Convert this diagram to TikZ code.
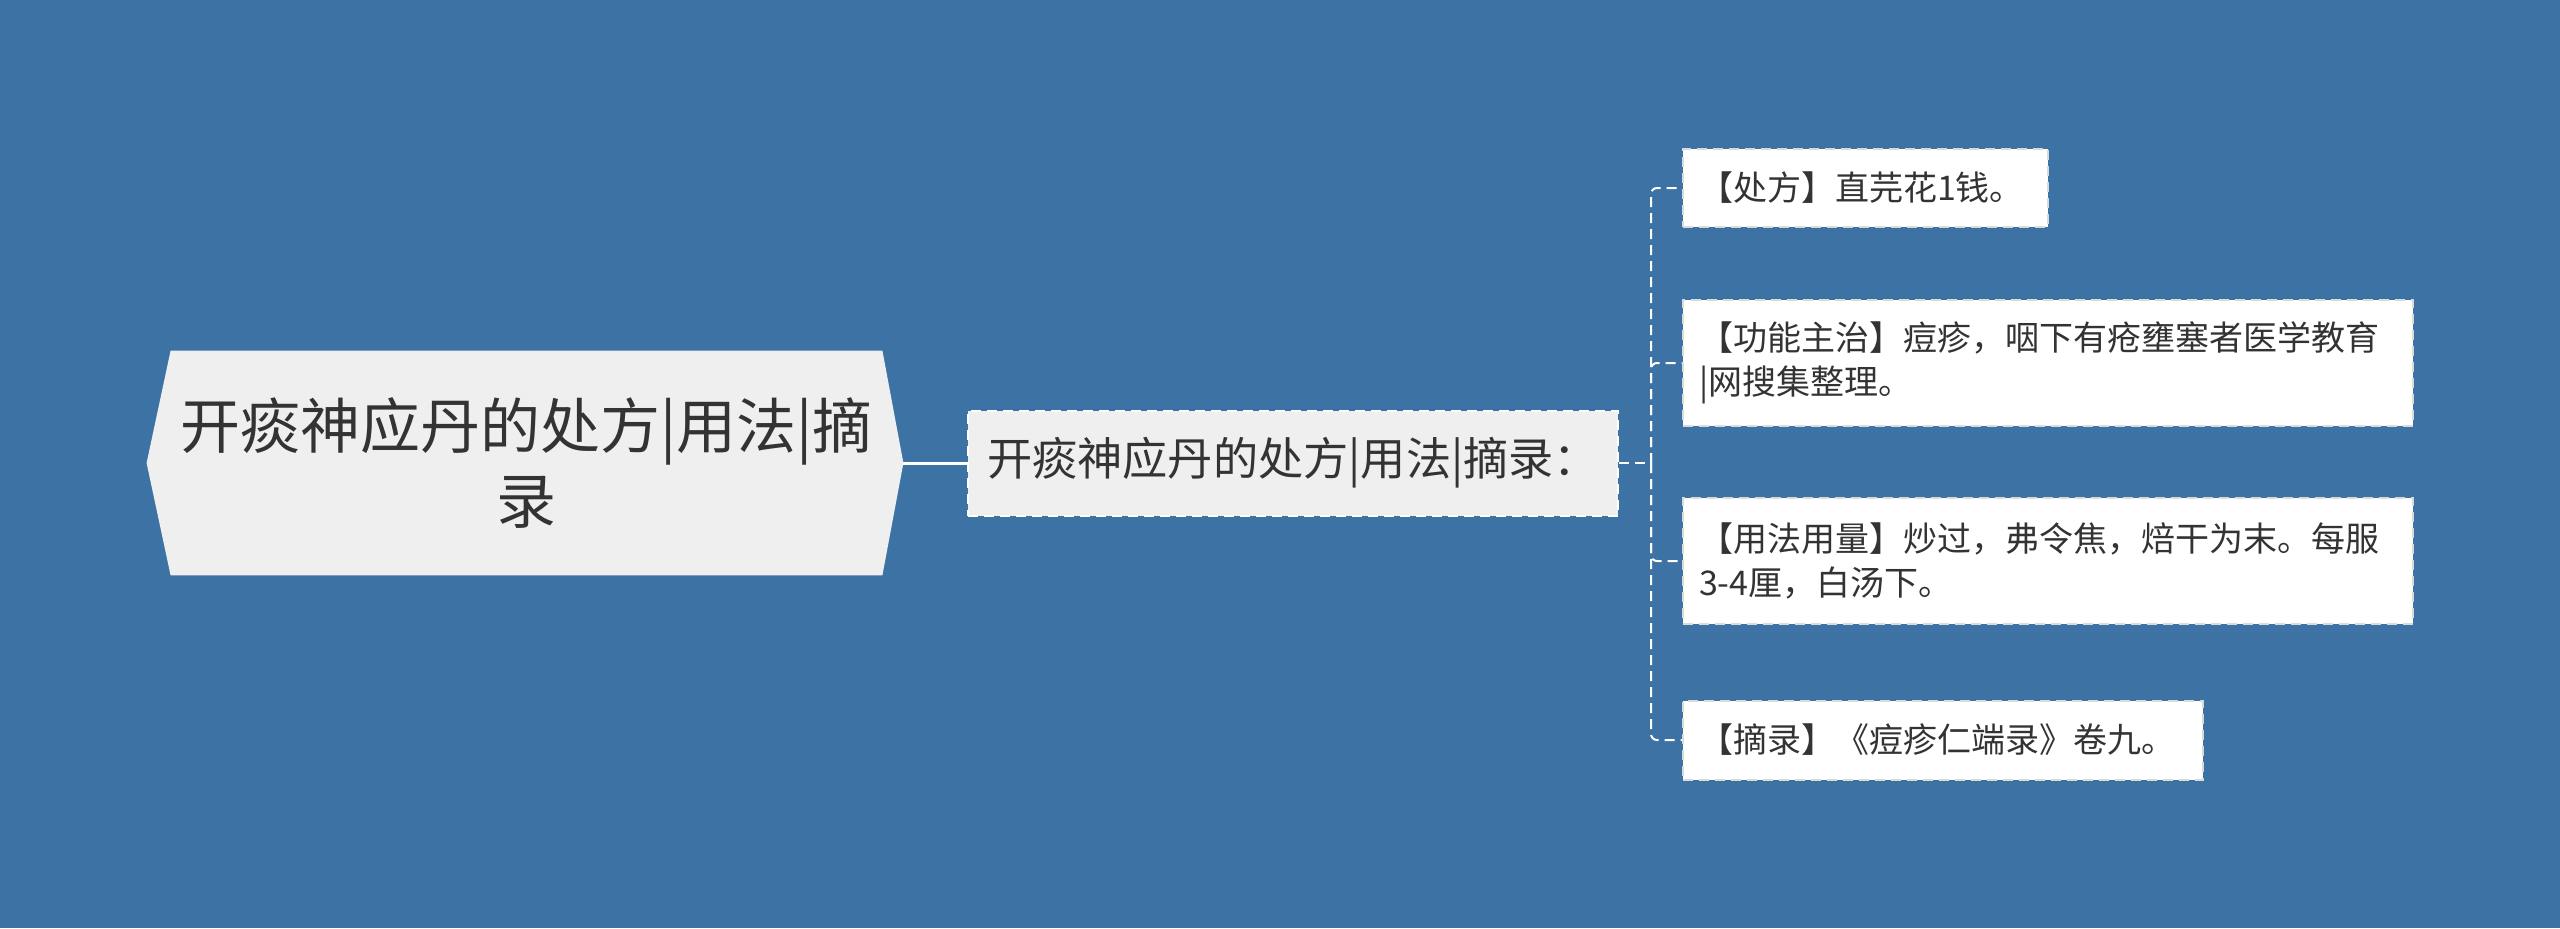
\documentclass[tikz,border=0pt]{standalone}
\usepackage{fontspec}
\newfontfamily\cjk{Noto Sans CJK SC}
\usetikzlibrary{backgrounds}
\definecolor{bgblue}{HTML}{3D72A4}
\definecolor{lightfill}{HTML}{EFEFEF}
\definecolor{txt}{HTML}{333333}
\definecolor{dashgray}{HTML}{DADADA}
\begin{document}
\begin{tikzpicture}[x=0.5pt,y=-0.5pt,
  rootnode/.style={font=\cjk\fontsize{30pt}{37.5pt}\selectfont, text=txt, align=center,
    minimum width=355.5pt, minimum height=112pt, inner sep=0pt},
  midnode/.style={font=\cjk\fontsize{22.6pt}{28pt}\selectfont, text=txt, fill=lightfill,
    draw=white, dash pattern=on 5pt off 3pt, line width=1pt,
    minimum width=325pt, minimum height=52.5pt, inner sep=0pt},
  leaf/.style={font=\cjk\fontsize{17pt}{22pt}\selectfont, text=txt, fill=white,
    draw=dashgray, dash pattern=on 5pt off 3pt, line width=1pt, anchor=west,
    inner xsep=8pt, inner ysep=0pt, align=left},
  solidconn/.style={draw=white, line width=1.5pt},
  dashconn/.style={draw=white, line width=1pt, dash pattern=on 5pt off 3pt, rounded corners=3pt}
]
\useasboundingbox (0,0) rectangle (2560,928);

% root
\node[rootnode] (root) at (526.5,463) {开痰神应丹的处方|用法|摘\\录};
\begin{scope}[on background layer]
\fill[bgblue] (0,0) rectangle (2560,928);
\fill[lightfill] (root.north west) -- (root.north east) -- ([xshift=10.5pt]root.east)
  -- (root.south east) -- (root.south west) -- ([xshift=-12pt]root.west) -- cycle;
\end{scope}

% middle
\node[midnode] (mid) at (1293,463) {开痰神应丹的处方|用法|摘录：};

% leaves
\node[leaf, text width=166.5pt, minimum height=39pt] (c1) at (1682,188) {【处方】直芫花1钱。};
\node[leaf, text width=349pt, minimum height=63pt] (c2) at (1682,363) {【功能主治】痘疹，咽下有疮壅塞者医学教育\\|网搜集整理。};
\node[leaf, text width=349pt, minimum height=63pt] (c3) at (1682,561) {【用法用量】炒过，弗令焦，焙干为末。每服\\3-4厘，白汤下。};
\node[leaf, text width=244pt, minimum height=39.5pt] (c4) at (1682,740) {【摘录】《痘疹仁端录》卷九。};

% connectors
\coordinate (hub) at (1651,463);
\draw[solidconn] ([xshift=10.5pt]root.east) -- (mid.west);
\draw[dashconn] (mid.east) -- (hub);
\draw[dashconn] (hub) |- (c1.west);
\draw[dashconn] (hub) |- (c2.west);
\draw[dashconn] (hub) |- (c3.west);
\draw[dashconn] (hub) |- (c4.west);
\end{tikzpicture}
\end{document}
